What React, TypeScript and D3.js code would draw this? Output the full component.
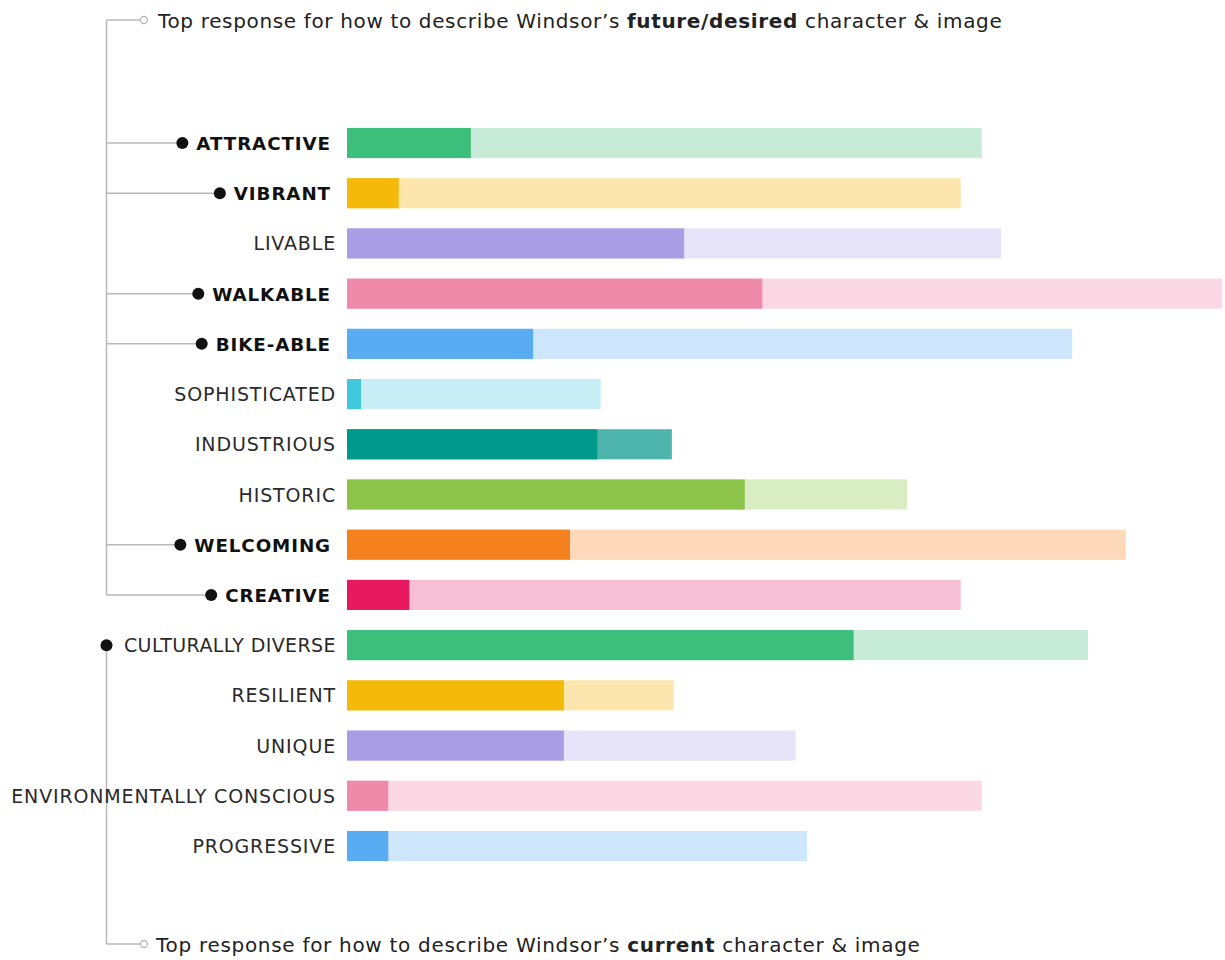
import React from "react";
import * as d3 from "d3";

const categories = [
  "ATTRACTIVE", "VIBRANT", "LIVABLE", "WALKABLE", "BIKE-ABLE", "SOPHISTICATED",
  "INDUSTRIOUS", "HISTORIC", "WELCOMING", "CREATIVE", "CULTURALLY DIVERSE",
  "RESILIENT", "UNIQUE", "ENVIRONMENTALLY CONSCIOUS", "PROGRESSIVE",
];
// current (darker) and future/desired (lighter) values, relative scale 0-100
const currentValues = [14.1, 5.9, 38.4, 47.3, 21.2, 1.6, 28.5, 45.3, 25.4, 7.1, 57.7, 24.7, 24.7, 4.7, 4.7];
const futureValues = [72.3, 69.9, 74.5, 99.7, 82.6, 28.9, 37.0, 63.8, 88.7, 69.9, 84.4, 37.2, 51.1, 72.3, 52.4];
const darkColors = [
  "#3cbf7b", "#f5b90a", "#a99de5", "#f08aab", "#5aacf2", "#40c6dd",
  "#009a8c", "#8cc349", "#f5801e", "#e8185f", "#3cbf7b", "#f5b90a",
  "#a99de5", "#f08aab", "#5aacf2",
];
const lightColors = [
  "#c6ecd8", "#fce6ad", "#e7e3f8", "#fbd8e4", "#cde6fb", "#c9eff6",
  "#4db5ac", "#d9eec3", "#fdd9b9", "#f7bfd4", "#c6ecd8", "#fce6ad",
  "#e7e3f8", "#fbd8e4", "#cde6fb",
];
const futureTop = ["ATTRACTIVE", "VIBRANT", "WALKABLE", "BIKE-ABLE", "WELCOMING", "CREATIVE"];
const currentTop = ["CULTURALLY DIVERSE"];
const futureLegend = ["Top response for how to describe Windsor\u2019s ", "future/desired", " character & image"];
const currentLegend = ["Top response for how to describe Windsor\u2019s ", "current", " character & image"];

const FONT = "'DejaVu Sans', sans-serif";
const LABEL_SIZE = 19;
const LABEL_SPACING = 0.85;
const BOLD_SIZE = 18.3;
const BOLD_SPACING = 0.9;

let ctx: CanvasRenderingContext2D | null = null;
function measure(text: string, size: number, weight: string, spacing: number) {
  if (!ctx) ctx = document.createElement("canvas").getContext("2d");
  if (!ctx) return text.length * size * 0.75;
  ctx.font = `${weight} ${size}px ${FONT}`;
  return ctx.measureText(text).width + spacing * text.length;
}

export default function App() {
  const width = 1225;
  const height = 960;
  const x = d3.scaleLinear().domain([0, 100]).range([347, 1225]);
  const y = d3.scaleBand<string>().domain(categories).range([117.9, 871.1]).paddingInner(0.4).paddingOuter(0.2);
  const labelX = 336;
  const lineX = 106.5;
  const lineColor = "#b8b8b8";
  const cy = (c: string) => (y(c) as number) + y.bandwidth() / 2;

  const topY = 20;
  const bottomY = 944;
  const lastFuture = cy("CREATIVE");
  const firstCurrent = cy("CULTURALLY DIVERSE");

  return (
    <svg width={width} height={height} style={{ position: "absolute", left: 0, top: 0, background: "#fff" }} fontFamily={FONT}>
      {/* brackets */}
      <line x1={lineX} x2={lineX} y1={topY} y2={lastFuture} stroke={lineColor} strokeWidth={1.5} />
      <line x1={lineX} x2={140} y1={topY} y2={topY} stroke={lineColor} strokeWidth={1.5} />
      <circle cx={144} cy={topY} r={3.5} fill="#fff" stroke={lineColor} strokeWidth={1.3} />
      <line x1={lineX} x2={lineX} y1={firstCurrent} y2={bottomY} stroke={lineColor} strokeWidth={1.5} />
      <line x1={lineX} x2={140} y1={bottomY} y2={bottomY} stroke={lineColor} strokeWidth={1.5} />
      <circle cx={144} cy={bottomY} r={3.5} fill="#fff" stroke={lineColor} strokeWidth={1.3} />

      <text x={158} y={topY + 8} fontSize={20} letterSpacing={0.65} fill="#222">
        <tspan>{futureLegend[0]}</tspan>
        <tspan fontWeight="bold">{futureLegend[1]}</tspan>
        <tspan>{futureLegend[2]}</tspan>
      </text>
      <text x={156} y={bottomY + 8} fontSize={20} letterSpacing={0.7} fill="#222">
        <tspan>{currentLegend[0]}</tspan>
        <tspan fontWeight="bold">{currentLegend[1]}</tspan>
        <tspan>{currentLegend[2]}</tspan>
      </text>

      {/* bars */}
      {categories.map((c, i) => (
        <g key={c}>
          <rect x={x(0)} y={y(c)} width={x(futureValues[i]) - x(0)} height={y.bandwidth()} fill={lightColors[i]} />
          <rect x={x(0)} y={y(c)} width={x(currentValues[i]) - x(0)} height={y.bandwidth()} fill={darkColors[i]} />
        </g>
      ))}

      {/* labels */}
      {categories.map((c) => {
        const isBold = futureTop.includes(c);
        const isCur = currentTop.includes(c);
        const size = isBold ? BOLD_SIZE : LABEL_SIZE;
        const spacing = isBold ? BOLD_SPACING : LABEL_SPACING;
        const weight = isBold ? "bold" : "normal";
        const tx = isBold ? labelX - 5 : labelX;
        const w = measure(c, size, weight, spacing);
        const dotX = isCur ? lineX : tx - w - 14;
        return (
          <g key={c}>
            {isBold && (
              <line x1={lineX} x2={dotX} y1={cy(c)} y2={cy(c)} stroke={lineColor} strokeWidth={1.5} />
            )}
            {(isBold || isCur) && <circle cx={dotX} cy={cy(c)} r={6} fill="#111" />}
            <text x={tx} y={cy(c) + 7} textAnchor="end" fontSize={size} fontWeight={weight}
              letterSpacing={isCur ? 0.4 : spacing} fill={isBold ? "#111" : "#2a2a2a"}>
              {c}
            </text>
          </g>
        );
      })}
    </svg>
  );
}
